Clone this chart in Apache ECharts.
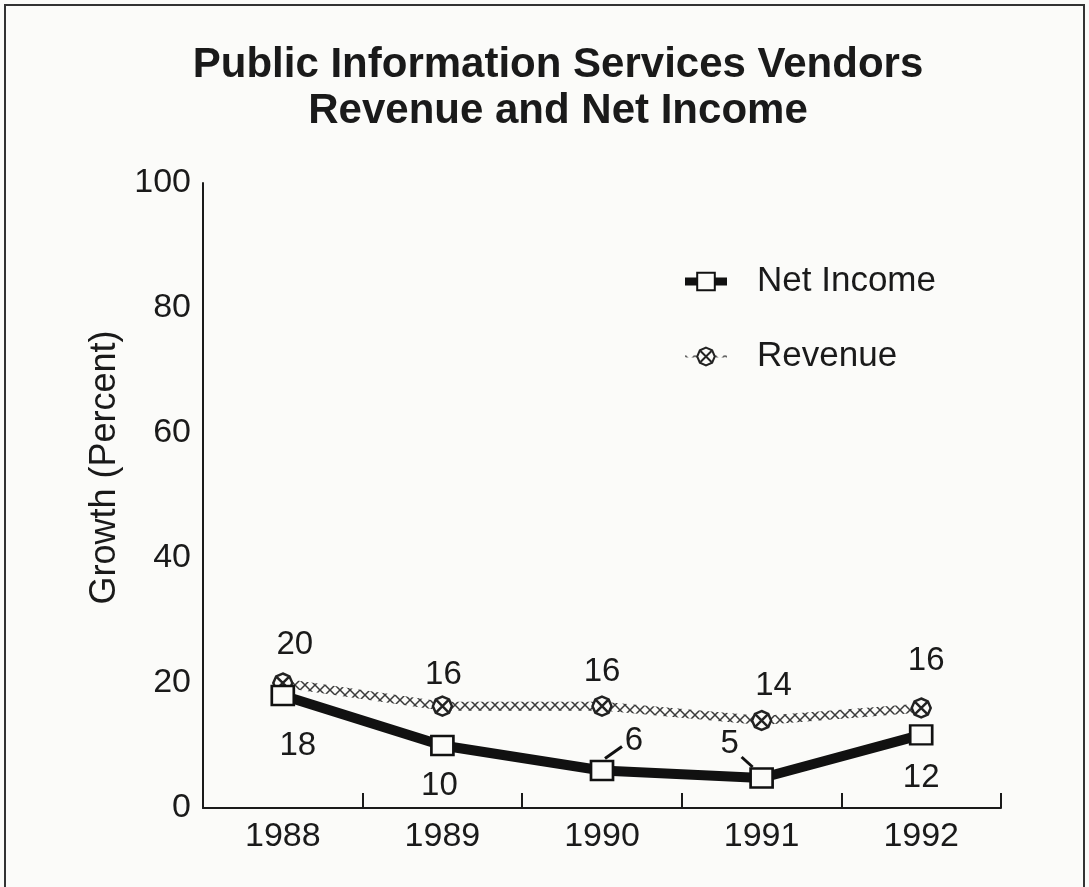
<!DOCTYPE html>
<html><head><meta charset="utf-8">
<script src="https://cdn.jsdelivr.net/npm/echarts@6/dist/echarts.min.js"></script>
<style>html,body{margin:0;padding:0;background:#fbfbf9}#c{width:1089px;height:887px}</style>
</head><body><div id="c"></div>
<script>
const titleText = 'Public Information Services Vendors\nRevenue and Net Income';
const years = ['1988','1989','1990','1991','1992'];
const netIncome = [18, 10, 6, 4.8, 11.7];
const netIncomeLabels = ['18','10','6','5','12'];
const revenue = [20, 16.3, 16.3, 14, 16];
const revenueLabels = ['20','16','16','14','16'];
const yTicks = [0, 20, 40, 60, 80, 100];

const niOffsets = [[15,50],[-3,40],[32,-30],[-32,-34],[0,43]];
const revOffsets = [[12,-38],[1,-31],[0,-34],[12,-35],[5,-47]];
const F = 'Liberation Sans, Arial, sans-serif';

// seamless cross-hatch tile for the revenue line
const pc = document.createElement('canvas');
pc.width = 10; pc.height = 10;
const g = pc.getContext('2d');
g.strokeStyle = '#3a3a3a'; g.lineWidth = 1.5;
g.beginPath(); g.moveTo(0,0); g.lineTo(10,10); g.moveTo(10,0); g.lineTo(0,10); g.stroke();

const revSymbol = 'path://M10,0 L17,3 L20,10 L17,17 L10,20 L3,17 L0,10 L3,3 Z M4,4 L16,16 M16,4 L4,16';

const chart = echarts.init(document.getElementById('c'));
chart.setOption({
  backgroundColor: '#fbfbf9',
  animation: false,
  title: {
    text: titleText, left: 553, top: 37, textAlign: 'center',
    textStyle: {fontFamily: F, fontSize: 42, fontWeight: 'bold', color: '#1a1a1a', lineHeight: 46}
  },
  legend: {
    orient: 'vertical', left: 676, top: 259, itemGap: 40, itemWidth: 42, itemHeight: 22,
    textStyle: {fontFamily: F, fontSize: 35, color: '#1a1a1a', padding: [0,0,0,25]},
    data: [
      {name: 'Net Income', lineStyle: {width: 8}},
      {name: 'Revenue'}
    ]
  },
  grid: {left: 203, right: 88, top: 183, bottom: 79},
  xAxis: {
    type: 'category', data: years, boundaryGap: true,
    axisLine: {lineStyle: {color: '#1a1a1a', width: 2}},
    axisTick: {show: true, inside: true, length: 15, lineStyle: {color: '#1a1a1a', width: 2}},
    axisLabel: {fontFamily: F, fontSize: 34, color: '#1a1a1a', margin: 12},
    splitLine: {show: false}
  },
  yAxis: {
    type: 'value', min: yTicks[0], max: yTicks[yTicks.length-1], interval: 20,
    name: 'Growth (Percent)', nameLocation: 'middle', nameGap: 80, nameRotate: 90,
    nameTextStyle: {fontFamily: F, fontSize: 36, color: '#1a1a1a', padding: [0,0,0,56]},
    axisLine: {show: true, lineStyle: {color: '#1a1a1a', width: 2}},
    axisTick: {show: false},
    axisLabel: {fontFamily: F, fontSize: 34, color: '#1a1a1a', margin: 12},
    splitLine: {show: false}
  },
  series: [
    {
      name: 'Revenue', type: 'line', data: revenue.map((v,i)=>({value: v, label: {offset: revOffsets[i]}})),
      symbol: revSymbol, symbolSize: 19,
      lineStyle: {color: {image: pc, repeat: 'repeat'}, width: 9},
      itemStyle: {color: '#fbfbf9', borderColor: '#222', borderWidth: 2.5},
      label: {show: true, position: 'inside', fontFamily: F, fontSize: 33, color: '#1a1a1a',
              formatter: p => revenueLabels[p.dataIndex]},
      z: 3
    },
    {
      name: 'Net Income', type: 'line', data: netIncome.map((v,i)=>({value: v, label: {offset: niOffsets[i]}})),
      symbol: 'rect', symbolSize: [22, 19],
      lineStyle: {color: '#111', width: 10},
      itemStyle: {color: '#fbfbf9', borderColor: '#111', borderWidth: 2.5},
      label: {show: true, position: 'inside', fontFamily: F, fontSize: 33, color: '#1a1a1a',
              formatter: p => netIncomeLabels[p.dataIndex]},
      z: 4
    }
  ]
});

// leader lines for the "6" and "5" labels
const p2 = chart.convertToPixel({xAxisIndex: 0, yAxisIndex: 0}, [2, netIncome[2]]);
const p3 = chart.convertToPixel({xAxisIndex: 0, yAxisIndex: 0}, [3, netIncome[3]]);
chart.setOption({graphic: [
  {type: 'rect', shape: {x: 5, y: 5, width: 1079, height: 900}, style: {fill: 'none', stroke: '#333', lineWidth: 2}, z: 100},
  {type: 'line', shape: {x1: p2[0]+3, y1: p2[1]-12, x2: p2[0]+20, y2: p2[1]-24}, style: {stroke: '#111', lineWidth: 3}, z: 100},
  {type: 'line', shape: {x1: p3[0]-20, y1: p3[1]-21, x2: p3[0]-9, y2: p3[1]-11}, style: {stroke: '#111', lineWidth: 3}, z: 100}
]});
</script></body></html>
